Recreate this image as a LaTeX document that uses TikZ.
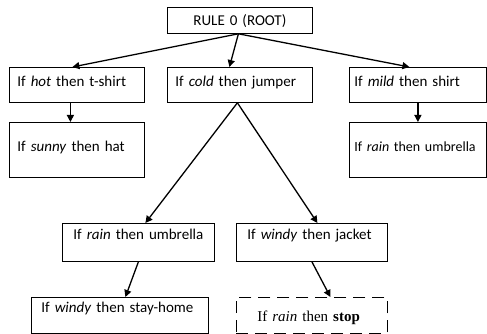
\documentclass[tikz,border=0pt]{standalone}
\usepackage{fontspec}
\setmainfont{Carlito}
\newfontfamily\timesfont{Liberation Serif}
\usetikzlibrary{arrows.meta}

\begin{document}
\begin{tikzpicture}[x=1pt,y=-1pt,
  rule/.style={draw,line width=0.8pt,anchor=north west,align=left,inner ysep=0pt,
    font=\fontsize{15}{17}\selectfont},
  link/.style={-{Triangle[length=7pt,width=7pt]},line width=1.3pt}]
 \useasboundingbox (0,0) rectangle (487,334);

 \node[rule,align=center,text width=129pt,inner xsep=8pt,text height=18.5pt,text depth=7.5pt] (root) at (167,7) {RULE 0 (ROOT)};
 \node[rule,text width=119pt,inner xsep=8pt,text height=19.5pt,text depth=15.5pt] (hot) at (9,67) {If \textit{hot} then t-shirt};
 \node[rule,text width=129pt,inner xsep=8pt,text height=19.5pt,text depth=15.5pt] (cold) at (167,67) {If \textit{cold} then jumper};
 \node[rule,text width=127pt,inner xsep=5pt,text height=19.5pt,text depth=15.5pt] (mild) at (349,67) {If \textit{mild} then shirt};
 \node[rule,text width=119pt,inner xsep=8pt,text height=29.5pt,text depth=25.5pt] (sunny) at (9,122) {If \textit{sunny} then hat};
 \node[rule,font=\fontsize{14}{16}\selectfont,text width=127pt,inner xsep=5pt,text height=29.5pt,text depth=25.5pt] (rainR) at (349,122) {If \textit{rain} then umbrella};
 \node[rule,text width=130pt,inner xsep=11pt,text height=16.5pt,text depth=21.5pt] (rainU) at (62,223) {If \textit{rain} then umbrella};
 \node[rule,text width=129pt,inner xsep=11pt,text height=16.5pt,text depth=21.5pt] (windyJ) at (236,223) {If \textit{windy} then jacket};
 \node[rule,text width=157pt,inner xsep=10pt,text height=15.5pt,text depth=20.5pt] (windyH) at (31,297) {If \textit{windy} then stay-home};
 \node[rule,dash pattern=on 12pt off 7pt,text width=109pt,inner xsep=21pt,text height=24pt,text depth=12pt] (stop) at (236,297) {\timesfont If \textit{rain} then \textbf{stop}};

 \path[link]
 ([xshift=-1.5pt]root.south) edge ([xshift=-4.5pt]hot.north)
 ([xshift=-1.5pt]root.south) edge ([xshift=-10.5pt]cold.north)
 ([xshift=-1.5pt]root.south) edge ([xshift=-8.5pt]mild.north)
 ([xshift=-6.5pt]hot.south) edge ([xshift=-6.5pt]sunny.north)
 (mild.south) edge (rainR.north)
 ([xshift=-2.5pt]cold.south) edge ([xshift=7pt]rainU.north)
 ([xshift=-2.5pt]cold.south) edge ([xshift=5.5pt]windyJ.north)
 (rainU.south) edge ([xshift=5.5pt]windyH.north)
 (windyJ.south) edge ([xshift=18.5pt]stop.north);
\end{tikzpicture}
\end{document}
